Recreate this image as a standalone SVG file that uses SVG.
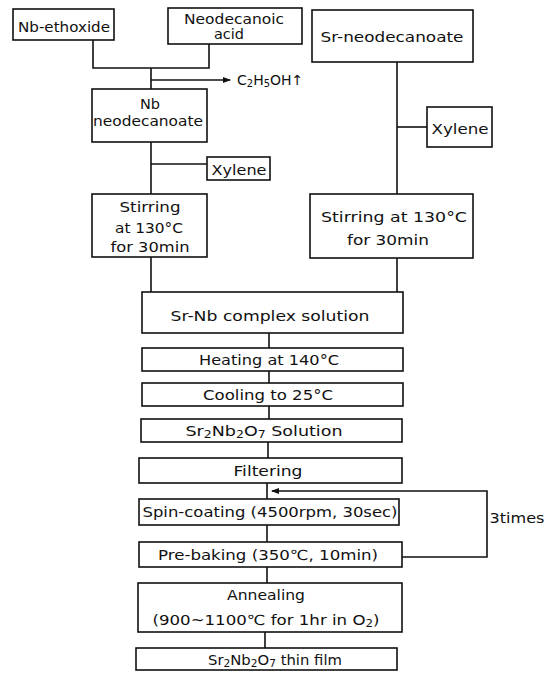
<svg xmlns="http://www.w3.org/2000/svg" width="552" height="673" viewBox="0 0 552 673">
<style>
.box{fill:#fff;stroke:#111;stroke-width:1.6}
.ln{fill:none;stroke:#111;stroke-width:1.6}
text{font-family:"DejaVu Sans","Liberation Sans",sans-serif;font-size:14px;fill:#111;text-anchor:middle}
.st{text-anchor:start}
.sub{font-size:10px}
</style>
<defs>
<marker id="ah" markerWidth="8" markerHeight="8" refX="7" refY="4" orient="auto" markerUnits="userSpaceOnUse">
<path d="M0,1 L8,4 L0,7 Z" fill="#111"/>
</marker>
</defs>
<rect width="552" height="673" fill="#fff"/>
<g id="connectors">
<path class="ln" d="M93,40 V68 H209 V44"/>
<path class="ln" d="M151,68 V89"/>
<path class="ln" d="M151,80 H230" marker-end="url(#ah)"/>
<path class="ln" d="M151,142 V194"/>
<path class="ln" d="M151,164 H207"/>
<path class="ln" d="M151,257 V292"/>
<path class="ln" d="M397,62 V194"/>
<path class="ln" d="M397,127 H427"/>
<path class="ln" d="M397,258 V292"/>
<path class="ln" d="M269,333 V348"/>
<path class="ln" d="M269,371 V383"/>
<path class="ln" d="M269,406 V419"/>
<path class="ln" d="M268,442 V458"/>
<path class="ln" d="M267,483 V499"/>
<path class="ln" d="M267,525 V542"/>
<path class="ln" d="M267,567 V583"/>
<path class="ln" d="M265,632 V648"/>
<path class="ln" d="M402,557 H487 V491 H272" marker-end="url(#ah)"/>
</g>
<g id="nb-ethoxide">
<rect class="box" x="13" y="9" width="101" height="31"/>
<text x="64" y="32" textLength="92" lengthAdjust="spacingAndGlyphs">Nb-ethoxide</text>
</g>
<g id="neodecanoic-acid">
<rect class="box" x="168" y="8" width="134" height="36"/>
<text x="234" y="24" textLength="100" lengthAdjust="spacingAndGlyphs">Neodecanoic</text>
<text x="229" y="39" textLength="30" lengthAdjust="spacingAndGlyphs">acid</text>
</g>
<g id="ethanol">
<text class="st" x="237" y="85">C<tspan class="sub" dy="2">2</tspan><tspan dy="-2">H</tspan><tspan class="sub" dy="2">5</tspan><tspan dy="-2">OH↑</tspan></text>
</g>
<g id="sr-neodecanoate">
<rect class="box" x="312" y="10" width="161" height="52"/>
<text x="392" y="42" textLength="143" lengthAdjust="spacingAndGlyphs">Sr-neodecanoate</text>
</g>
<g id="nb-neodecanoate">
<rect class="box" x="92" y="89" width="115" height="53"/>
<text x="150" y="109" textLength="20" lengthAdjust="spacingAndGlyphs">Nb</text>
<text x="148" y="126" textLength="110" lengthAdjust="spacingAndGlyphs">neodecanoate</text>
</g>
<g id="xylene-left">
<rect class="box" x="207" y="157" width="63" height="23"/>
<text x="239" y="175" textLength="55" lengthAdjust="spacingAndGlyphs">Xylene</text>
</g>
<g id="stirring-left">
<rect class="box" x="92" y="194" width="115" height="63"/>
<text x="150" y="212" textLength="61" lengthAdjust="spacingAndGlyphs">Stirring</text>
<text x="149" y="233" textLength="68" lengthAdjust="spacingAndGlyphs">at 130°C</text>
<text x="150" y="252" textLength="79" lengthAdjust="spacingAndGlyphs">for 30min</text>
</g>
<g id="xylene-right">
<rect class="box" x="427" y="107" width="65" height="40"/>
<text x="460" y="134" textLength="57" lengthAdjust="spacingAndGlyphs">Xylene</text>
</g>
<g id="stirring-right">
<rect class="box" x="310" y="194" width="163" height="64"/>
<text x="394" y="222" textLength="146" lengthAdjust="spacingAndGlyphs">Stirring at 130°C</text>
<text x="388" y="245" textLength="82" lengthAdjust="spacingAndGlyphs">for 30min</text>
</g>
<g id="sr-nb-complex">
<rect class="box" x="142" y="292" width="261" height="41"/>
<text x="270" y="321" textLength="199" lengthAdjust="spacingAndGlyphs">Sr-Nb complex solution</text>
</g>
<g id="heating">
<rect class="box" x="142" y="348" width="261" height="23"/>
<text x="269" y="365" textLength="140" lengthAdjust="spacingAndGlyphs">Heating at 140°C</text>
</g>
<g id="cooling">
<rect class="box" x="142" y="383" width="261" height="23"/>
<text x="268" y="400" textLength="130" lengthAdjust="spacingAndGlyphs">Cooling to 25°C</text>
</g>
<g id="solution">
<rect class="box" x="141" y="419" width="261" height="23"/>
<text x="264" y="436" textLength="157" lengthAdjust="spacingAndGlyphs">Sr<tspan class="sub" dy="2">2</tspan><tspan dy="-2">Nb</tspan><tspan class="sub" dy="2">2</tspan><tspan dy="-2">O</tspan><tspan class="sub" dy="2">7</tspan><tspan dy="-2"> Solution</tspan></text>
</g>
<g id="filtering">
<rect class="box" x="139" y="458" width="263" height="25"/>
<text x="268" y="476" textLength="69" lengthAdjust="spacingAndGlyphs">Filtering</text>
</g>
<g id="spin-coating">
<rect class="box" x="139" y="499" width="260" height="26"/>
<text x="270" y="517" textLength="255" lengthAdjust="spacingAndGlyphs">Spin-coating (4500rpm, 30sec)</text>
</g>
<g id="pre-baking">
<rect class="box" x="139" y="542" width="263" height="25"/>
<text x="268" y="560" textLength="220" lengthAdjust="spacingAndGlyphs">Pre-baking (350℃, 10min)</text>
</g>
<g id="annealing">
<rect class="box" x="138" y="583" width="264" height="49"/>
<text x="266" y="600" textLength="78" lengthAdjust="spacingAndGlyphs">Annealing</text>
<text x="266" y="625" textLength="227" lengthAdjust="spacingAndGlyphs">(900~1100℃ for 1hr in O<tspan class="sub" dy="2">2</tspan><tspan dy="-2">)</tspan></text>
</g>
<g id="thin-film">
<rect class="box" x="136" y="648" width="261" height="22"/>
<text x="275" y="665" textLength="134" lengthAdjust="spacingAndGlyphs">Sr<tspan class="sub" dy="2">2</tspan><tspan dy="-2">Nb</tspan><tspan class="sub" dy="2">2</tspan><tspan dy="-2">O</tspan><tspan class="sub" dy="2">7</tspan><tspan dy="-2"> thin film</tspan></text>
</g>
<g id="loop-label">
<text x="517" y="523" textLength="55" lengthAdjust="spacingAndGlyphs">3times</text>
</g>
</svg>
